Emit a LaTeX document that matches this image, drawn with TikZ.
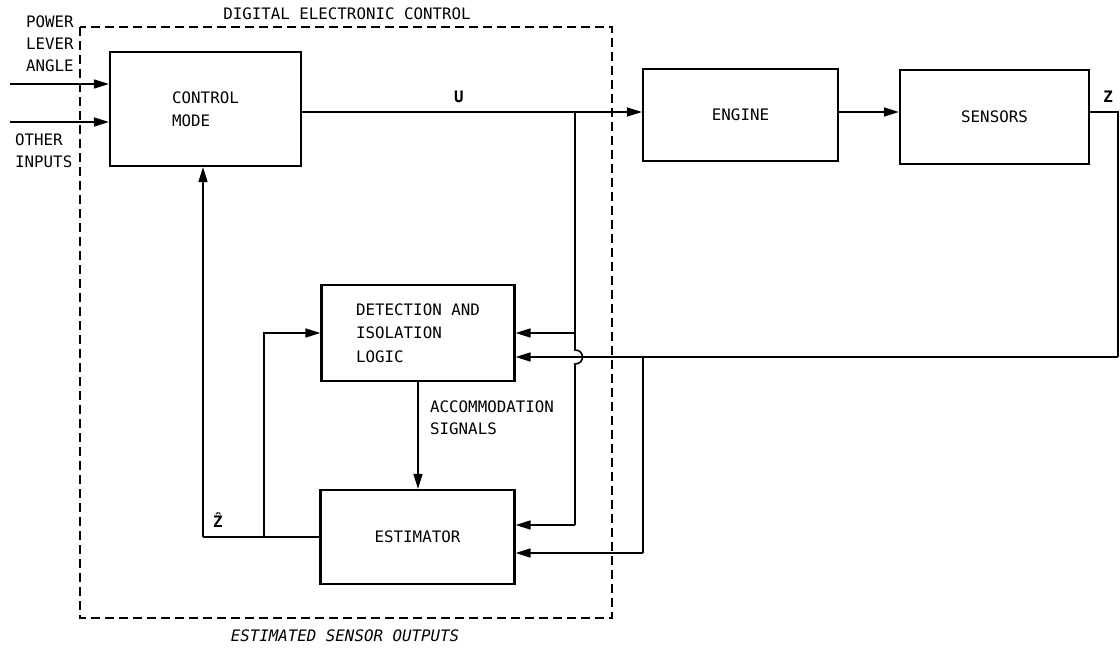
\documentclass[tikz,border=0pt]{standalone}
\usepackage{fontspec}
\setmainfont{DejaVu Sans Mono}
\usetikzlibrary{arrows.meta,positioning,calc}

\tikzset{
  block/.style={draw, line width=2.2pt, inner sep=0pt, font=\fontsize{15.8}{23.5}\selectfont, align=left},
  sig/.style={line width=1.6pt},
  arr/.style={sig, -{Triangle[length=15pt,width=9pt]}},
  lbl/.style={font=\fontsize{15.8}{22}\selectfont, align=left, inner sep=0pt},
}

\begin{document}
\begin{tikzpicture}[x=1pt,y=-1pt]
\useasboundingbox (0,0) rectangle (1120,650);

% Boundary of the controller
\draw[line width=1.5pt, dash pattern=on 9pt off 5pt] (80,27) rectangle (612,618);
\node[lbl] (dectitle) at (347,14) {DIGITAL ELECTRONIC CONTROL};
\node[lbl, font=\fontsize{15.8}{22}\selectfont\itshape] (esttitle) at (345,636) {ESTIMATED SENSOR OUTPUTS};

% Blocks
\node[block, minimum width=191pt, minimum height=114pt] (ctrl) at (205.5,109) {CONTROL\\MODE};
\node[block, minimum width=195pt, minimum height=92pt] (engine) at (740.5,115) {ENGINE};
\node[block, minimum width=189pt, minimum height=94pt] (sensors) at (994.5,117) {SENSORS};
\node[block, minimum width=193pt, minimum height=96pt] (detect) at (418,333) {DETECTION AND\\ISOLATION\\LOGIC};
\node[block, minimum width=194pt, minimum height=94pt] (estim) at (417.5,537) {ESTIMATOR};

% Inputs
\coordinate (pla) at (10,84);
\coordinate (oth) at (10,122);
\draw[arr] (pla) -- (ctrl.west |- pla);
\draw[arr] (oth) -- (ctrl.west |- oth);
\node[lbl, anchor=north west] (plalbl) at (26,16) {POWER\\LEVER\\ANGLE};
\node[lbl, anchor=north west] (othlbl) at (15,134) {OTHER\\INPUTS};

% Command U
\coordinate (urow) at (459,112);
\coordinate (ujct) at (575,112);
\draw[arr] (ctrl.east |- urow) -- (engine.west |- urow);
\node[lbl, font=\fontsize{15.8}{22}\selectfont\bfseries] (ulbl) at (459,97) {U};
\draw[arr] (engine.east |- urow) -- (sensors.west |- urow);

% U into logic and estimator (hop over Z line)
\coordinate (hoptop) at (575,350);
\coordinate (hopbot) at (575,364);
\coordinate (uest) at (575,525);
\draw[sig] (ujct) -- (hoptop) .. controls (585,350) and (585,364) .. (hopbot) -- (uest);
\draw[arr] (ujct |- detect.east) -- (detect.east);
\draw[arr] (uest) -- (estim.east |- uest);

% Measurement Z
\coordinate (zout) at (1118,112);
\coordinate (zrow) at (1118,357);
\coordinate (zjct) at (643,357);
\coordinate (zest) at (643,553);
\draw[sig] (sensors.east |- zout) -- (zout) -- (zrow);
\draw[arr] (zrow) -- (detect.east |- zrow);
\draw[sig] (zjct) -- (zest);
\draw[arr] (zest) -- (estim.east |- zest);
\node[lbl, font=\fontsize{15.8}{22}\selectfont\bfseries] (zlbl) at (1108,97) {Z};

% Accommodation signals
\draw[arr] (detect.south) -- (estim.north -| detect.south);
\node[lbl, anchor=west] (acclbl) at (430,418) {ACCOMMODATION\\SIGNALS};

% Estimated outputs Zhat
\coordinate (zhout) at (203,537);
\coordinate (zhbr) at (264,537);
\draw[sig] (estim.west) -- (zhout);
\draw[arr] (zhout) -- (ctrl.south -| zhout);
\draw[arr] (zhbr) |- (detect.west);
\node[lbl, font=\fontsize{15.8}{22}\selectfont\bfseries] (zhlbl) at (218,520) {\^{Z}};
\end{tikzpicture}
\end{document}
